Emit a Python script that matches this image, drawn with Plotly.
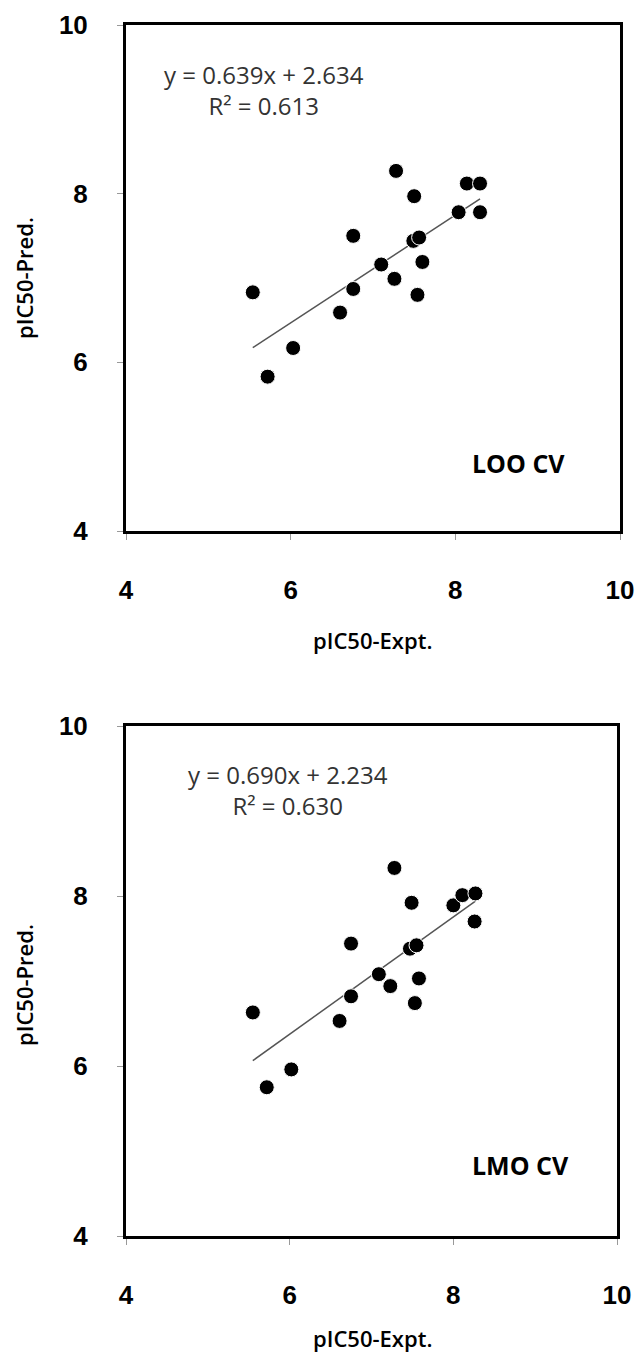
import plotly.graph_objects as go

# ---- data ----
loo_expt = [5.54, 5.72, 6.03, 6.60, 6.76, 6.76, 7.10, 7.26, 7.28, 7.50, 7.49, 7.56, 7.54, 7.60, 8.04, 8.14, 8.30, 8.30]
loo_pred = [6.83, 5.83, 6.17, 6.59, 6.87, 7.50, 7.16, 6.99, 8.27, 7.97, 7.44, 7.48, 6.80, 7.19, 7.78, 8.12, 8.12, 7.78]
lmo_expt = [5.55, 5.72, 6.02, 6.61, 6.75, 6.75, 7.09, 7.23, 7.28, 7.49, 7.47, 7.55, 7.53, 7.58, 8.00, 8.11, 8.27, 8.26]
lmo_pred = [6.63, 5.75, 5.96, 6.53, 6.82, 7.44, 7.08, 6.94, 8.33, 7.92, 7.38, 7.42, 6.74, 7.03, 7.89, 8.01, 8.03, 7.70]
loo_slope, loo_icpt, loo_r2 = 0.639, 2.634, 0.613
lmo_slope, lmo_icpt, lmo_r2 = 0.690, 2.234, 0.630
tick_vals = [4, 6, 8, 10]

W, H = 636, 1359

fig = go.Figure()

def add_panel(xs, ys, slope, icpt, xa, ya):
    xmin, xmax = min(xs), max(xs)
    fig.add_trace(go.Scatter(
        x=[xmin, xmax], y=[slope * xmin + icpt, slope * xmax + icpt],
        mode="lines", line=dict(color="#555555", width=1.5),
        xaxis=xa, yaxis=ya, showlegend=False, hoverinfo="skip"))
    fig.add_trace(go.Scatter(
        x=xs, y=ys, mode="markers",
        marker=dict(size=15, color="black", line=dict(color="white", width=1)),
        xaxis=xa, yaxis=ya, showlegend=False))

add_panel(loo_expt, loo_pred, loo_slope, loo_icpt, "x", "y")
add_panel(lmo_expt, lmo_pred, lmo_slope, lmo_icpt, "x2", "y2")

tickfont = dict(family="Liberation Sans Narrow, Liberation Sans, Arial", size=26,
                color="black", weight="bold")
axis_common = dict(
    range=[4, 10], tickvals=tick_vals, showgrid=False, zeroline=False,
    showline=True, mirror=True, linecolor="black", linewidth=3,
    ticks="outside", ticklen=6, tickcolor="#999999", tickwidth=1,
    tickfont=tickfont, automargin=False,
)

def py(pix):
    return 1 - pix / H

fig.update_layout(
    template="none",
    width=W, height=H, margin=dict(l=0, r=0, t=0, b=0, autoexpand=False),
    paper_bgcolor="white", plot_bgcolor="white",
    xaxis=dict(axis_common, domain=[126 / W, 620 / W], anchor="y", ticklabelstandoff=28),
    yaxis=dict(axis_common, domain=[py(531), py(25)], anchor="x", ticklabelstandoff=24),
    xaxis2=dict(axis_common, domain=[126 / W, 617 / W], anchor="y2", ticklabelstandoff=28),
    yaxis2=dict(axis_common, domain=[py(1236), py(726)], anchor="x2", ticklabelstandoff=24),
)

eqfont = dict(family="Open Sans, Liberation Sans", size=24, color="#333333")
boldfont = dict(family="Open Sans, Liberation Sans", size=25, color="black", weight="bold")
titlefont = dict(family="Open Sans, Liberation Sans", size=22, color="black", weight=600)

def ann(text, x, y, font, angle=0):
    fig.add_annotation(text=text, x=x / W, y=py(y), xref="paper", yref="paper",
                       showarrow=False, font=font, textangle=angle, align="center",
                       xanchor="center", yanchor="middle")

# top panel annotations
ann(f"y = {loo_slope:.3f}x + {loo_icpt:.3f}<br>R\u00b2 = {loo_r2:.3f}", 264, 90, eqfont)
ann("LOO CV", 518, 463, boldfont)
ann("pIC50-Expt.", 372, 640, titlefont)
ann("pIC50-Pred.", 24, 278, titlefont, angle=-90)

# bottom panel annotations
ann(f"y = {lmo_slope:.3f}x + {lmo_icpt:.3f}<br>R\u00b2 = {lmo_r2:.3f}", 288, 790, eqfont)
ann("LMO CV", 520, 1165, boldfont)
ann("pIC50-Expt.", 372, 1338, titlefont)
ann("pIC50-Pred.", 24, 985, titlefont, angle=-90)

fig.write_html("out.html")
